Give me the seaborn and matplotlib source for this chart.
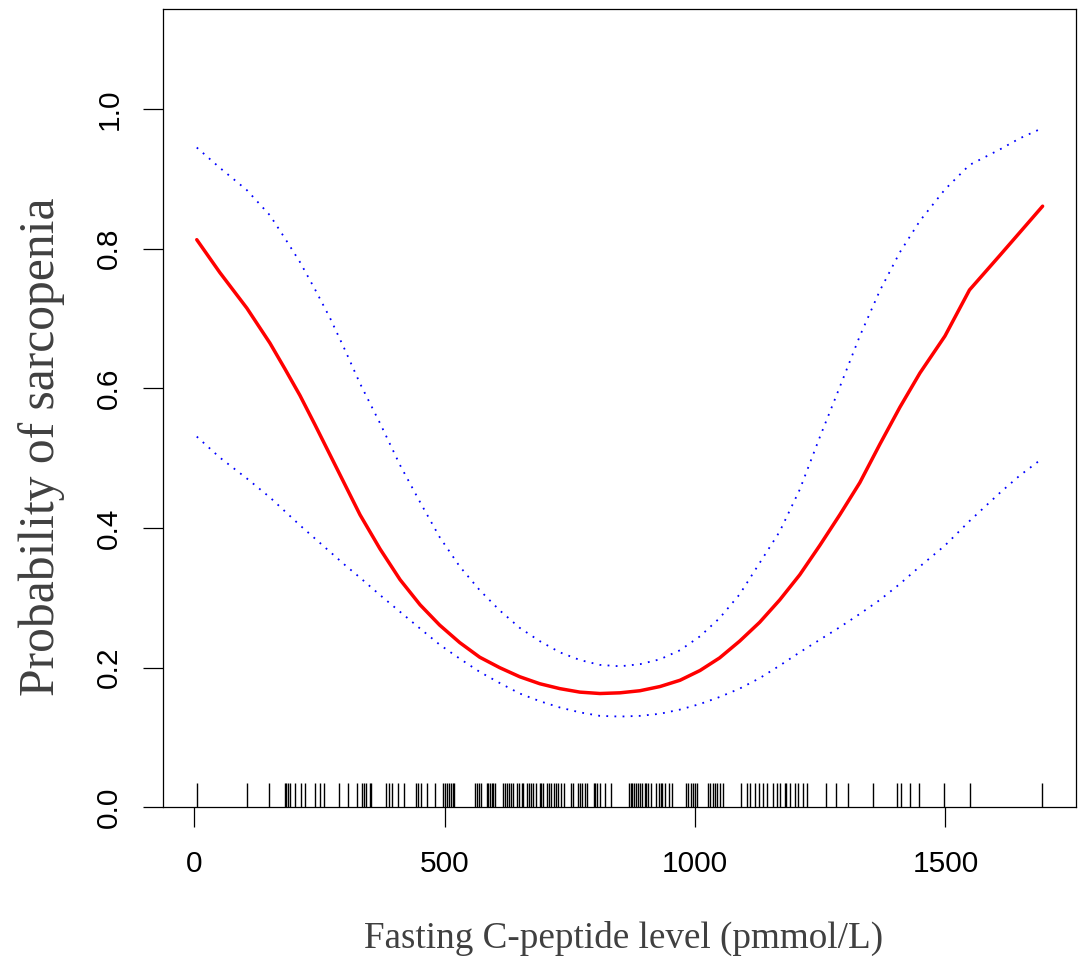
import numpy as np
import pandas as pd
import seaborn as sns
import matplotlib.pyplot as plt

cpeptide = [5, 51, 105, 151, 181, 211, 241, 271, 301, 331, 371, 411, 451, 490, 530,
            570, 610, 650, 690, 730, 770, 810, 850, 890, 930, 970, 1010, 1049, 1089,
            1129, 1169, 1209, 1249, 1289, 1329, 1369, 1409, 1449, 1499, 1548, 1608,
            1648, 1694]
# fitted probability
fit = [0.813, 0.766, 0.715, 0.665, 0.628, 0.590, 0.548, 0.505, 0.462, 0.419, 0.370,
       0.326, 0.290, 0.261, 0.236, 0.215, 0.200, 0.187, 0.177, 0.170, 0.165, 0.163,
       0.164, 0.167, 0.173, 0.182, 0.196, 0.214, 0.238, 0.265, 0.297, 0.333, 0.375,
       0.419, 0.465, 0.520, 0.573, 0.622, 0.675, 0.741, 0.790, 0.823, 0.861]
# 95% band
upper = [0.945, 0.916, 0.884, 0.848, 0.815, 0.781, 0.742, 0.701, 0.655, 0.607, 0.550,
         0.490, 0.437, 0.387, 0.345, 0.311, 0.282, 0.257, 0.238, 0.222, 0.211, 0.204,
         0.202, 0.205, 0.212, 0.225, 0.245, 0.271, 0.305, 0.350, 0.395, 0.455, 0.530,
         0.602, 0.675, 0.740, 0.795, 0.840, 0.885, 0.920, 0.942, 0.958, 0.973]
lower = [0.531, 0.501, 0.471, 0.444, 0.424, 0.404, 0.385, 0.366, 0.347, 0.329, 0.304,
         0.280, 0.256, 0.233, 0.213, 0.194, 0.178, 0.163, 0.152, 0.143, 0.136, 0.131,
         0.130, 0.131, 0.134, 0.140, 0.148, 0.158, 0.170, 0.185, 0.203, 0.222, 0.240,
         0.258, 0.277, 0.297, 0.320, 0.345, 0.375, 0.410, 0.450, 0.475, 0.500]

# observed values shown as a rug
rug = [6, 105, 150, 181, 184, 188, 192, 202, 213, 222, 242, 251, 260, 289, 307,
       324, 334, 339, 343, 351, 353, 382, 389, 395, 407, 419, 443, 446, 453, 465,
       480, 497, 500, 505, 508, 512, 517, 519, 560, 564, 569, 572, 584, 587, 590,
       594, 597, 600, 616, 620, 625, 629, 632, 637, 645, 649, 654, 657, 664, 669,
       673, 677, 682, 691, 693, 697, 705, 709, 713, 718, 722, 727, 733, 739, 752,
       757, 767, 770, 774, 781, 785, 798, 801, 805, 810, 820, 833, 868, 872, 874,
       878, 883, 886, 890, 894, 900, 903, 906, 912, 923, 928, 932, 934, 940, 948,
       953, 981, 986, 991, 995, 999, 1003, 1026, 1029, 1035, 1039, 1044, 1049, 1055,
       1091, 1104, 1109, 1119, 1128, 1136, 1144, 1156, 1164, 1169, 1179, 1182, 1189,
       1199, 1206, 1216, 1224, 1261, 1281, 1305, 1355, 1403, 1412, 1430, 1447, 1498,
       1550, 1693]

x_ticks = [0, 500, 1000, 1500]
y_ticks = [0.0, 0.2, 0.4, 0.6, 0.8, 1.0]

df = pd.DataFrame({"x": cpeptide, "fit": fit, "upper": upper, "lower": lower})

sns.set_style("ticks")
plt.rcParams["font.family"] = ["Liberation Sans", "DejaVu Sans"]

fig = plt.figure(figsize=(10.79, 9.57), dpi=100)
ax = fig.add_axes([0.1508, 0.1564, 0.8461, 0.8339])

# dotted confidence limits, then the fitted curve on top
sns.lineplot(data=df, x="x", y="upper", ax=ax, color="#0000FF", lw=1.3,
             linestyle=(0, (1, 3.5)), sort=False, estimator=None)
sns.lineplot(data=df, x="x", y="lower", ax=ax, color="#0000FF", lw=1.3,
             linestyle=(0, (1, 3.5)), sort=False, estimator=None)
sns.lineplot(data=df, x="x", y="fit", ax=ax, color="#FF0000", lw=2.5,
             sort=False, estimator=None)
sns.rugplot(x=rug, ax=ax, height=0.03, color="black", lw=0.8)

ax.set_xlim(-63, 1760)
ax.set_ylim(0, 1.143)
ax.set_xticks(x_ticks)
ax.set_xticklabels([str(t) for t in x_ticks])
ax.set_yticks(y_ticks)
ax.set_yticklabels([f"{t:.1f}" for t in y_ticks], rotation=90, va="center")

for s in ax.spines.values():
    s.set_visible(True)
    s.set_linewidth(0.9)
    s.set_color("black")

ax.tick_params(axis="both", direction="out", length=14.4, width=0.9,
               labelsize=21.5, colors="black")
ax.tick_params(axis="x", pad=16)
ax.tick_params(axis="y", pad=14)

ax.set_xlabel("Fasting C-peptide level (pmmol/L)", family="Liberation Serif",
              fontsize=26.7, color="#404040", labelpad=31.5)
ax.set_ylabel("Probability of sarcopenia", family="Liberation Serif",
              fontsize=35.7, color="#404040", labelpad=22)
ax.xaxis.label.set_x(0.505)
ax.yaxis.label.set_y(0.4515)

fig.savefig("out.png", dpi=100)
